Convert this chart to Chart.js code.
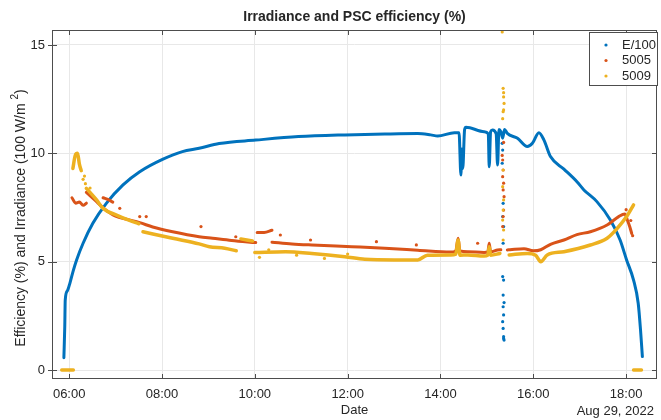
<!DOCTYPE html>
<html>
<head>
<meta charset="utf-8">
<script src="https://cdn.jsdelivr.net/npm/chart.js"></script>
<style>
  html, body { margin: 0; padding: 0; background: #fff; }
  canvas { display: block; }
</style>
</head>
<body>
<canvas id="psc-chart" width="661" height="420"></canvas>
<script>
// time in decimal hours (Aug 29, 2022), values in % or 100 W/m2
var xTicks = [6, 8, 10, 12, 14, 16, 18];
var yTicks = [0, 5, 10, 15];

// E/100 main trace
var irrT = [5.886, 5.905, 5.915, 5.96, 6.015, 6.09, 6.16, 6.30, 6.51, 6.80, 7.16, 7.52, 8.01, 8.44, 8.80, 9.23,
  10.02, 10.94, 11.94, 12.80, 13.51, 13.79, 13.94, 14.30, 14.40, 14.44, 14.46, 14.48, 14.52, 14.55, 14.94,
  15.03, 15.05, 15.08, 15.12, 15.20, 15.23, 15.26, 15.30, 15.34, 15.38, 15.44, 15.66, 15.87, 15.98, 16.12,
  16.23, 16.37, 16.66, 16.94, 17.09, 17.37, 17.66, 17.87, 18.01, 18.16, 18.26, 18.31, 18.35];
var irrV = [0.57, 2.0, 3.23, 3.65, 4.0, 4.6, 5.08, 5.85, 6.77, 7.69, 8.54, 9.15, 9.72, 10.08, 10.23, 10.45,
  10.61, 10.77, 10.85, 10.89, 10.91, 10.85, 10.80, 10.95, 10.95, 9.0, 10.2, 9.3, 11.1, 11.2, 11.0,
  10.9, 9.38, 11.0, 11.08, 10.9, 9.46, 11.1, 11.0, 10.7, 11.1, 10.92, 10.69, 10.31, 10.46, 10.95,
  10.61, 9.85, 9.27, 8.69, 8.31, 7.77, 6.92, 6.0, 5.08, 4.15, 3.08, 1.85, 0.62];
// E/100 scattered points around 15:20
var irrOutT = [15.33, 15.34, 15.33, 15.35, 15.34, 15.36, 15.35, 15.34, 15.36, 15.35, 15.37, 15.35, 15.36, 15.34, 15.35, 15.36, 15.37, 15.36];
var irrOutV = [10.46, 10.15, 9.54, 7.69, 7.08, 6.62, 5.85, 4.31, 4.15, 3.46, 3.11, 2.92, 2.54, 2.23, 1.92, 1.54, 1.38, 1.45];

// 5005 main trace (null = gap)
var effAT = [6.06, 6.14, 6.22, 6.30, 6.37, null, 6.73, 6.85, 6.94, null,
  6.37, 6.55, 6.75, 7.0, 7.25, 7.52, 7.8, 8.23, 8.80, 9.09, 9.5, 10.02, null, 10.05, 10.2, 10.37, null,
  10.37, 10.8, 11.23, 12.09, 12.80, 13.51, 14.22, 14.33, 14.38, 14.42, 14.59, 14.94, 15.02, 15.05, 15.08,
  15.23, 15.30, null, 15.44, 15.5, 15.8, 16.0, 16.16, 16.37, 16.66, 16.94, 17.23, 17.59, 17.84, 17.97,
  18.03, 18.08, 18.12];
var effAV = [7.95, 7.7, 7.75, 7.6, 7.7, null, 7.95, 7.85, 7.75, null,
  8.2, 7.85, 7.45, 7.1, 6.95, 6.8, 6.6, 6.38, 6.15, 6.08, 5.98, 5.88, null, 6.35, 6.35, 6.45, null,
  5.9, 5.82, 5.77, 5.69, 5.62, 5.53, 5.44, 5.5, 6.08, 5.5, 5.46, 5.42, 5.45, 5.85, 5.45,
  5.54, 5.55, null, 5.54, 5.55, 5.6, 5.5, 5.55, 5.8, 6.0, 6.25, 6.38, 6.69, 7.08, 7.2,
  6.9, 6.6, 6.3];
var effAOutT = [7.09, 7.52, 7.66, 8.84, 9.59, 10.55, 11.2, 12.62, 13.48, 14.8,
  15.33, 15.34, 15.35, 15.34, 15.36, 15.35, 15.37, 15.36, 15.35, 15.34, 15.36, 18.0, 18.1, 18.14];
var effAOutV = [7.46, 7.08, 7.08, 6.62, 6.15, 6.23, 6.0, 5.92, 5.77, 5.85,
  9.9, 9.69, 9.23, 8.92, 8.62, 8.31, 8.0, 7.38, 7.08, 6.62, 10.5, 7.4, 6.9, 6.2];

// 5009 main trace (null = gap)
var effBT = [5.84, 6.09, null, 6.08, 6.13, 6.18, 6.22, 6.26, null,
  6.37, 6.59, 6.73, 7.02, 7.30, 7.50, null, 7.59, 8.23, 8.80, 9.02, 9.35, 9.60, null, 9.7, 9.95, null,
  10.0, 10.66, 11.23, 11.94, 12.37, 13.01, 13.51, 13.72, 14.22, 14.33, 14.38, 14.42, 14.59, 14.94, 15.02,
  15.05, 15.08, 15.28, null, 15.48, 15.87, 16.05, 16.16, 16.30, 16.66, 17.23, 17.59, 17.81, 18.01, 18.16,
  null, 18.16, 18.33];
var effBV = [0, 0, null, 9.3, 9.9, 10.0, 9.5, 9.2, null,
  8.38, 7.85, 7.46, 7.15, 6.9, 6.75, null, 6.38, 6.08, 5.82, 5.69, 5.62, 5.5, null, 6.05, 5.95, null,
  5.42, 5.46, 5.38, 5.23, 5.11, 5.08, 5.08, 5.3, 5.31, 5.35, 6.0, 5.3, 5.31, 5.26, 5.3,
  5.69, 5.3, 5.38, null, 5.31, 5.38, 5.3, 5.0, 5.31, 5.46, 5.77, 6.08, 6.54, 7.08, 7.62,
  null, 0, 0];
var effBOutT = [6.3, 6.35, 6.45, 6.33, 10.1, 10.3, 10.9, 11.5, 12.0,
  15.33, 15.35, 15.36, 15.37, 15.36, 15.35, 15.34, 15.36, 15.35, 15.34, 15.36, 15.35, 15.34, 15.36, 15.35];
var effBOutV = [8.8, 8.6, 8.4, 8.95, 5.2, 5.55, 5.3, 5.15, 5.35,
  15.6, 13.0, 12.6, 12.3, 12.0, 11.92, 11.6, 12.8, 9.23, 8.46, 7.85, 7.38, 6.92, 6.46, 6.0];

var blue = '#0072BD', orange = '#D95319', yellow = '#EDB120';
var textColor = '#262626';
var fontFam = '"Liberation Sans", Arial, sans-serif';

function pts(ts, vs) {
  return ts.map(function (t, i) { return { x: t, y: vs[i] }; });
}

function traceSet(ts, vs, color, width, order) {
  return {
    data: pts(ts, vs), showLine: true, spanGaps: false, borderColor: color, backgroundColor: color,
    borderWidth: width, pointRadius: 0, borderCapStyle: 'round', borderJoinStyle: 'round',
    cubicInterpolationMode: 'monotone', order: order
  };
}
function dotSet(ts, vs, color, order) {
  return { data: pts(ts, vs), showLine: false, backgroundColor: color, borderWidth: 0, pointRadius: 1.6, order: order };
}

var framePlugin = {
  id: 'frame',
  afterDraw: function (chart) {
    var c = chart.ctx, a = chart.chartArea;
    var xs = chart.scales.x, ys = chart.scales.y;
    c.save();
    c.strokeStyle = '#4d4d4d';
    c.lineWidth = 1;
    c.strokeRect(a.left + 0.5, a.top + 0.5, a.right - a.left - 1, a.bottom - a.top - 1);
    // inward tick marks
    c.beginPath();
    xTicks.forEach(function (t) {
      var px = Math.round(xs.getPixelForValue(t)) + 0.5;
      c.moveTo(px, a.bottom); c.lineTo(px, a.bottom - 5);
      c.moveTo(px, a.top); c.lineTo(px, a.top + 5);
    });
    yTicks.forEach(function (v) {
      var py = Math.round(ys.getPixelForValue(v)) + 0.5;
      c.moveTo(a.left - 4, py); c.lineTo(a.left + 5, py);
      c.moveTo(a.right, py); c.lineTo(a.right - 5, py);
    });
    c.stroke();

    c.fillStyle = textColor;
    c.textAlign = 'center';
    c.textBaseline = 'middle';
    c.font = 'bold 14px ' + fontFam;
    c.fillText('Irradiance and PSC efficiency (%)', (a.left + a.right) / 2, 17);
    c.font = '13px ' + fontFam;
    c.fillText('Date', (a.left + a.right) / 2, 410);
    c.textAlign = 'right';
    c.fillText('Aug 29, 2022', 654, 411);

    // y axis label with superscript
    c.save();
    c.translate(21, 218);
    c.rotate(-Math.PI / 2);
    c.font = '14px ' + fontFam;
    var main = 'Efficiency (%) and Irradiance (100 W/m ';
    var wMain = c.measureText(main).width;
    c.font = '10px ' + fontFam;
    var wSup = c.measureText('2').width;
    c.font = '14px ' + fontFam;
    var wEnd = c.measureText(')').width;
    var x0 = -(wMain + wSup + wEnd) / 2;
    c.textAlign = 'left';
    c.fillText(main, x0, 0);
    c.font = '10px ' + fontFam;
    c.fillText('2', x0 + wMain, -6);
    c.font = '14px ' + fontFam;
    c.fillText(')', x0 + wMain + wSup, 0);
    c.restore();

    // legend box
    c.fillStyle = '#fff';
    c.fillRect(589, 32, 68, 53);
    c.strokeStyle = '#4d4d4d';
    c.strokeRect(589.5, 32.5, 68, 53);
    var names = ['E/100', '5005', '5009'];
    var cols = [blue, orange, yellow];
    c.font = '13px ' + fontFam;
    c.textAlign = 'left';
    names.forEach(function (n, i) {
      var yy = 45 + i * 15.5;
      c.fillStyle = cols[i];
      c.beginPath(); c.arc(606, yy, 1.6, 0, Math.PI * 2); c.fill();
      c.fillStyle = textColor;
      c.fillText(n, 622, yy);
    });
    c.restore();
  }
};

var ctx = document.getElementById('psc-chart').getContext('2d');
var pscChart = new Chart(ctx, {
  type: 'scatter',
  data: {
    datasets: [
      traceSet(irrT, irrV, blue, 3, 6),
      dotSet(irrOutT, irrOutV, blue, 5),
      traceSet(effAT, effAV, orange, 3, 4),
      dotSet(effAOutT, effAOutV, orange, 3),
      traceSet(effBT, effBV, yellow, 3.5, 2),
      dotSet(effBOutT, effBOutV, yellow, 1)
    ]
  },
  options: {
    responsive: false,
    devicePixelRatio: 1,
    animation: false,
    layout: { padding: { top: 30, right: 1, left: 0, bottom: 0 } },
    plugins: {
      legend: { display: false },
      tooltip: { enabled: false },
      title: { display: false }
    },
    scales: {
      x: {
        type: 'linear',
        min: 5.63,
        max: 18.665,
        afterBuildTicks: function (s) { s.ticks = xTicks.map(function (v) { return { value: v }; }); },
        afterFit: function (s) { s.height = 41; },
        ticks: {
          autoSkip: false, maxRotation: 0, padding: 8, color: textColor,
          font: { family: fontFam, size: 13 },
          callback: function (v) { return (v < 10 ? '0' : '') + v + ':00'; }
        },
        grid: { color: '#e8e8e8', drawTicks: false },
        border: { display: false }
      },
      y: {
        min: -0.415,
        max: 15.69,
        afterBuildTicks: function (s) { s.ticks = yTicks.map(function (v) { return { value: v }; }); },
        afterFit: function (s) { s.width = 52; },
        ticks: {
          padding: 7, color: textColor,
          font: { family: fontFam, size: 13 }
        },
        grid: { color: '#e8e8e8', drawTicks: false },
        border: { display: false }
      }
    }
  },
  plugins: [framePlugin]
});
</script>
</body>
</html>
